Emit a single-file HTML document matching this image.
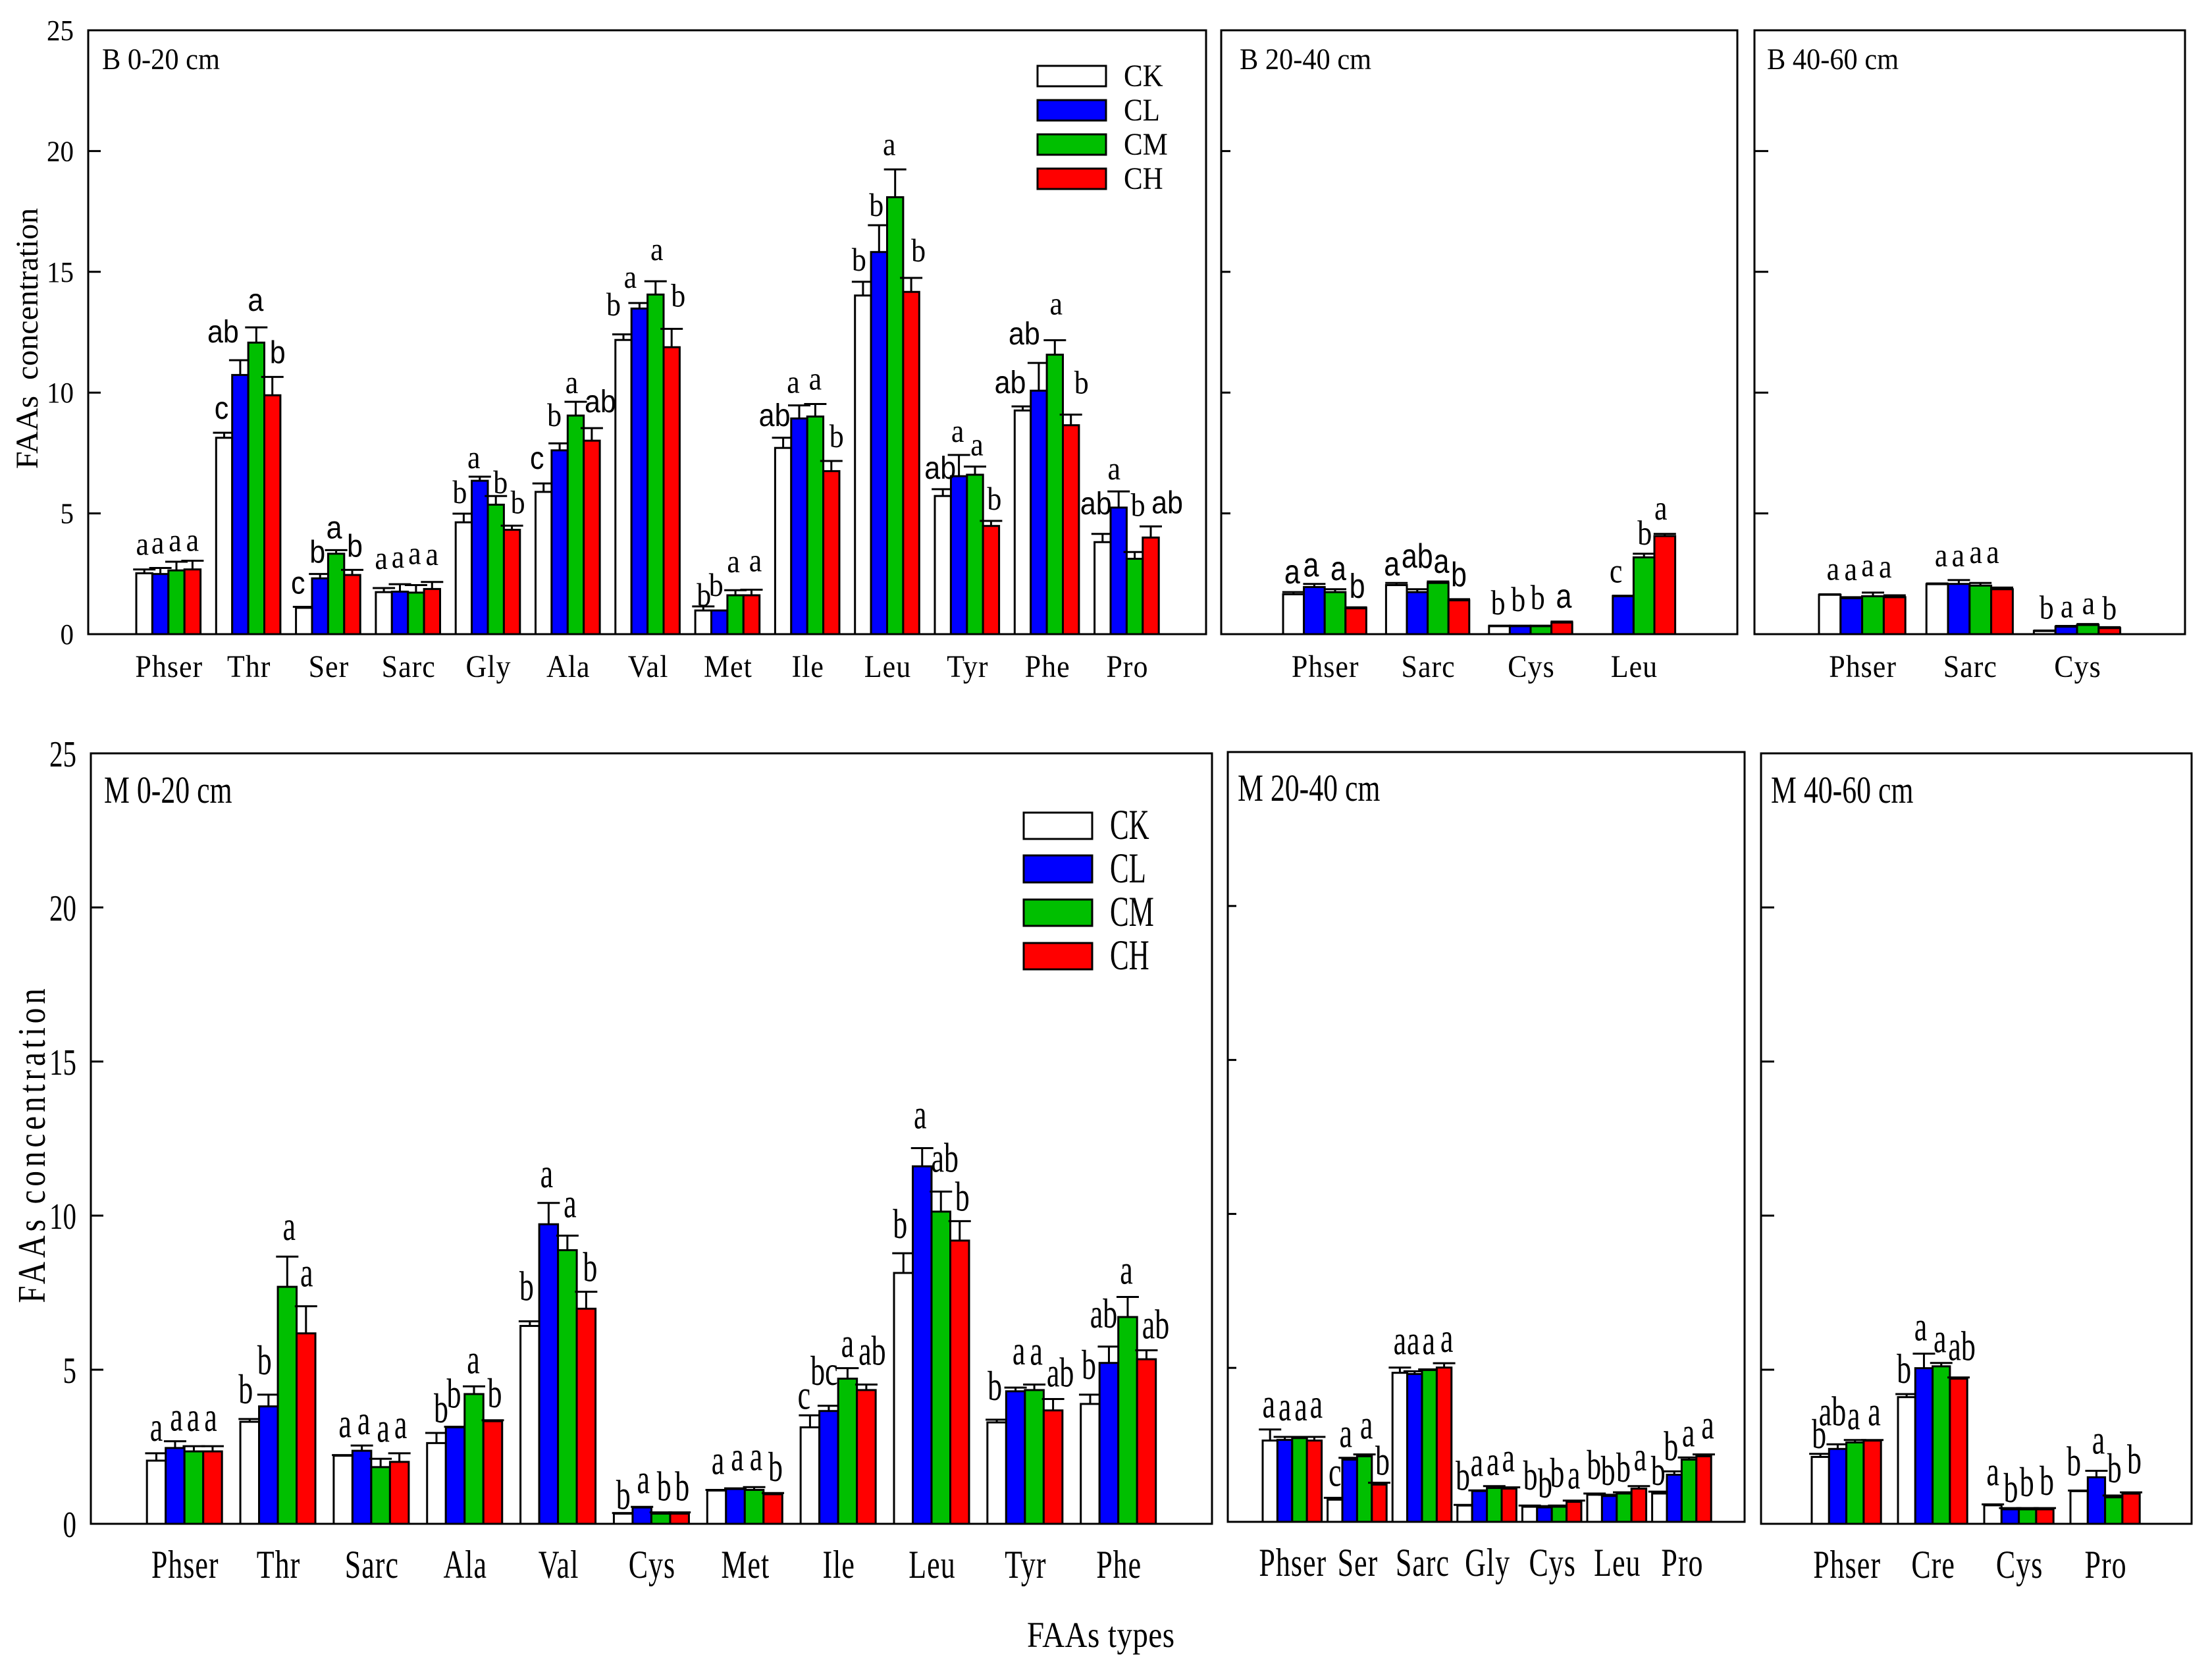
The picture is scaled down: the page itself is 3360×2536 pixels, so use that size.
<!DOCTYPE html>
<html lang="en">
<head>
<meta charset="utf-8">
<title>FAAs concentration by soil depth</title>
<style>
html,body{margin:0;padding:0;background:#fff}
svg{display:block}
text{font-family:"Liberation Serif",serif;fill:#000}
.sans{font-family:"Liberation Sans",sans-serif}
</style>
</head>
<body>
<svg id="chart" xmlns="http://www.w3.org/2000/svg" width="3360" height="2536" viewBox="0 0 3360 2536">
<rect x="0" y="0" width="3360" height="2536" fill="#fff"/>
<text transform="translate(57,514) rotate(-90)" font-size="48" text-anchor="middle" xml:space="preserve">FAAs  concentration</text>
<text transform="translate(68,1740) rotate(-90) scale(.8,1)" font-size="59" text-anchor="middle" textLength="597" lengthAdjust="spacing">FAAs concentration</text>
<text transform="translate(1560,2501) scale(1,1.18)" font-size="47" textLength="224" lengthAdjust="spacing">FAAs types</text>
<text transform="translate(155,105) scale(1,1.08)" font-size="42.4">B 0-20 cm</text>
<text transform="translate(1883,105) scale(1,1.08)" font-size="42.4">B 20-40 cm</text>
<text transform="translate(2684,105) scale(1,1.08)" font-size="42.4">B 40-60 cm</text>
<text transform="translate(158,1219) scale(1,1.33)" font-size="43.8">M 0-20 cm</text>
<text transform="translate(1880,1216) scale(1,1.33)" font-size="43.8">M 20-40 cm</text>
<text transform="translate(2690,1219) scale(1,1.33)" font-size="43.8">M 40-60 cm</text>
<g id="legend-top">
<rect x="1576" y="100" width="104" height="31" fill="#fff" stroke="#000" stroke-width="3"/>
<rect x="1576" y="152" width="104" height="31" fill="#0000ff" stroke="#000" stroke-width="3"/>
<rect x="1576" y="204" width="104" height="31" fill="#00bf00" stroke="#000" stroke-width="3"/>
<rect x="1576" y="256" width="104" height="31" fill="#ff0000" stroke="#000" stroke-width="3"/>
<text transform="translate(1707,131) scale(1,1.1)" font-size="43">CK</text>
<text transform="translate(1707,183) scale(1,1.1)" font-size="43">CL</text>
<text transform="translate(1707,235) scale(1,1.1)" font-size="43">CM</text>
<text transform="translate(1707,287) scale(1,1.1)" font-size="43">CH</text>
</g>
<g id="legend-bottom">
<rect x="1555" y="1234" width="104" height="40" fill="#fff" stroke="#000" stroke-width="3"/>
<rect x="1555" y="1299" width="104" height="41" fill="#0000ff" stroke="#000" stroke-width="3"/>
<rect x="1555" y="1366" width="104" height="40" fill="#00bf00" stroke="#000" stroke-width="3"/>
<rect x="1555" y="1432" width="104" height="40" fill="#ff0000" stroke="#000" stroke-width="3"/>
<text transform="translate(1686,1274) scale(1,1.5)" font-size="43">CK</text>
<text transform="translate(1686,1340) scale(1,1.5)" font-size="43">CL</text>
<text transform="translate(1686,1406) scale(1,1.5)" font-size="43">CM</text>
<text transform="translate(1686,1472) scale(1,1.5)" font-size="43">CH</text>
</g>
</svg>
<script>
const seriesNames = ['ck','cl','cm','ch'];
const yTickLabels = [0,5,10,15,20,25];

const b020Categories = ['Phser','Thr','Ser','Sarc','Gly','Ala','Val','Met','Ile','Leu','Tyr','Phe','Pro'];
const b020Means = [[2.52,2.49,2.64,2.68],[8.13,10.73,12.07,9.89],[1.09,2.31,3.33,2.45],[1.74,1.76,1.72,1.87],[4.63,6.35,5.36,4.32],[5.89,7.61,9.05,8.01],[12.18,13.48,14.06,11.88],[0.98,0.98,1.61,1.61],[7.71,8.93,9.01,6.75],[14.02,15.82,18.09,14.17],[5.72,6.54,6.6,4.48],[9.26,10.08,11.57,8.65],[3.81,5.24,3.12,4.0]];
const b020Uppers = [[2.68,2.74,3.0,3.04],[8.34,11.34,12.7,10.65],[1.13,2.49,3.48,2.66],[1.91,2.07,2.03,2.16],[4.99,6.52,5.72,4.49],[6.24,7.9,9.62,8.53],[12.41,13.71,14.61,12.64],[1.15,0.98,1.82,1.84],[8.13,9.47,9.53,7.17],[14.59,16.93,19.24,14.75],[6.0,7.42,6.94,4.69],[9.43,11.23,12.17,9.09],[4.15,5.91,3.4,4.46]];
const b020Letters = [['a','a','a','a'],['c*','ab*','a*','b*'],['c*','b*','a*','b*'],['a','a','a','a'],['b','a','b','b'],['c*','b','a','ab*'],['b','a','a','b'],['b','b','a','a'],['ab*','a','a','b'],['b','b','a','b'],['ab*','a','a','b'],['ab*','ab*','a','b'],['ab*','a','b','ab*']];

const b2040Categories = ['Phser','Sarc','Cys','Leu'];
const b2040Means = [[1.65,1.95,1.74,1.07],[2.03,1.74,2.12,1.40],[0.33,0.33,0.33,0.48],[null,1.57,3.18,4.06]];
const b2040Uppers = [[1.74,2.08,1.86,1.11],[2.12,1.86,2.18,1.45],[0.35,0.35,0.35,0.52],[null,1.59,3.33,4.15]];
const b2040Letters = [['a*','a*','a*','b*'],['a*','ab*','a*','b*'],['b','b','b','a*'],['','c','b','a']];

const b4060Categories = ['Phser','Sarc','Cys'];
const b4060Means = [[1.63,1.49,1.57,1.53],[2.07,2.08,2.01,1.86],[0.13,0.31,0.38,0.25]];
const b4060Uppers = [[1.65,1.53,1.72,1.61],[2.10,2.24,2.12,1.93],[0.15,0.34,0.42,0.29]];
const b4060Letters = [['a','a','a','a'],['a','a','a','a'],['b','a','a','b']];

const m020Categories = ['Phser','Thr','Sarc','Ala','Val','Cys','Met','Ile','Leu','Tyr','Phe'];
const m020Means = [[2.05,2.46,2.35,2.35],[3.31,3.81,7.69,6.18],[2.21,2.37,1.84,2.01],[2.62,3.13,4.21,3.33],[6.42,9.72,8.88,6.98],[0.33,0.53,0.33,0.33],[1.08,1.13,1.10,0.96],[3.13,3.66,4.71,4.34],[8.14,11.6,10.13,9.19],[3.29,4.30,4.34,3.68],[3.89,5.22,6.71,5.34]];
const m020Uppers = [[2.29,2.68,2.52,2.52],[3.40,4.19,8.67,7.06],[2.23,2.54,2.11,2.29],[2.95,3.15,4.46,3.36],[6.57,10.41,9.35,7.53],[0.35,0.55,0.37,0.37],[1.1,1.15,1.19,1.0],[3.52,3.83,5.05,4.52],[8.78,12.19,10.78,9.82],[3.38,4.42,4.52,4.05],[4.19,5.75,7.36,5.63]];
const m020Letters = [['a','a','a','a'],['b','b','a','a'],['a','a','a','a'],['b','b','a','b'],['b','a','a','b'],['b','a','b','b'],['a','a','a','b'],['c','bc','a','ab'],['b','a','ab','b'],['b','a','a','ab'],['b','ab','a','ab']];

const m2040Categories = ['Phser','Ser','Sarc','Gly','Cys','Leu','Pro'];
const m2040Means = [[2.64,2.66,2.72,2.64],[0.72,2.02,2.13,1.21],[4.84,4.80,4.93,5.01],[0.53,1.0,1.1,1.08],[0.49,0.47,0.49,0.65],[0.88,0.84,0.92,1.08],[0.92,1.53,2.02,2.13]];
const m2040Uppers = [[3.0,2.76,2.76,2.76],[0.78,2.08,2.19,1.27],[5.01,4.89,4.95,5.15],[0.55,1.02,1.16,1.12],[0.53,0.51,0.53,0.69],[0.92,0.88,0.96,1.16],[0.98,1.64,2.09,2.19]];
const m2040Letters = [['a','a','a','a'],['c','a','a','b'],['a','a','a','a'],['b','a','a','a'],['b','b','b','a'],['b','b','b','a'],['b','b','a','a']];

const m4060Categories = ['Phser','Cre','Cys','Pro'];
const m4060Means = [[2.17,2.43,2.64,2.70],[4.11,5.05,5.11,4.71],[0.6,0.47,0.47,0.47],[1.06,1.51,0.86,0.98]];
const m4060Uppers = [[2.27,2.58,2.72,2.72],[4.21,5.52,5.22,4.75],[0.63,0.51,0.51,0.51],[1.08,1.72,0.92,1.02]];
const m4060Letters = [['b','ab','a','a'],['b','a','a','ab'],['a','b','b','b'],['b','a','b','b']];

const seriesFill = {ck:'#ffffff',cl:'#0000ff',cm:'#00bf00',ch:'#ff0000'};
const SVG_NS = 'http://www.w3.org/2000/svg';
const svg = document.getElementById('chart');

function makeEl(tag, attrs, parent){
  const el = document.createElementNS(SVG_NS, tag);
  for (const k in attrs) el.setAttribute(k, attrs[k]);
  parent.appendChild(el);
  return el;
}

function drawPanel(p){
  const yScale = v => p.bottom - (v / 25) * (p.bottom - p.top);
  const xBar = (g, s) => p.start + g * p.pitch + s * p.barW;

  const group = makeEl('g', {}, svg);
  
  

  const frame = makeEl('rect', {x:p.left, y:p.top, width:p.right-p.left, height:p.bottom-p.top, fill:'none', stroke:'#000', 'stroke-width':3}, group);
  
  

  yTickLabels.forEach(t => {
    if (t > 0 && t < 25) {
      const tick = makeEl('line', {x1:p.left, x2:p.left+p.tick, y1:yScale(t), y2:yScale(t), stroke:'#000', 'stroke-width':3}, group);
      
      
    }
    if (p.showY) {
      const lab = makeEl('text', {transform:`translate(${p.left-22},${yScale(t)+p.tickBase}) scale(1,${p.sy})`, 'font-size':41, 'text-anchor':'end'}, group);
      lab.textContent = t;
      
      
    }
  });

  p.categories.forEach((cat, g) => {
    const centre = xBar(g, 2);
    const lab = makeEl('text', {transform:`translate(${centre+1},${p.catY}) scale(1,${p.sy})`, 'font-size':44, 'text-anchor':'middle', 'letter-spacing':1}, group);
    lab.textContent = cat;
    
    

    seriesNames.forEach((sName, s) => {
      const mean = p.means[g][s];
      if (mean !== null) {
        const x = xBar(g, s);
        const y = yScale(mean);
        const bc = x + p.barW / 2;
        const up = yScale(p.uppers[g][s]);

        const stem = makeEl('line', {x1:bc, x2:bc, y1:y, y2:up, stroke:'#000', 'stroke-width':3}, group);
        
        

        const cap = makeEl('line', {x1:bc-17, x2:bc+17, y1:up, y2:up, stroke:'#000', 'stroke-width':3}, group);
        
        

        const bar = makeEl('rect', {x:x, y:y, width:p.barW, height:p.bottom-y, fill:seriesFill[sName], stroke:'#000', 'stroke-width':3}, group);
        
        
      }
    });
  });

  // letters drawn last so they sit above neighbouring bars; the small offsets
  // only untangle label overlaps, the anchor always follows the error-bar value
  p.categories.forEach((cat, g) => {
    seriesNames.forEach((sName, s) => {
      const raw = p.letters[g][s];
      if (raw && p.means[g][s] !== null) {
        const isSans = raw.endsWith('*');
        const bc = xBar(g, s) + p.barW / 2 + p.offX[g][s];
        const up = yScale(p.uppers[g][s]) + p.offY[g][s];
        const t = makeEl('text', {transform:`translate(${bc},${up-p.gap}) scale(1,${p.letterSy})`, 'font-size':isSans ? 43 : 44, 'text-anchor':'middle'}, group);
        if (isSans) t.setAttribute('class', 'sans');
        t.textContent = raw.replace('*', '');
        
        
      }
    });
  });
}

drawPanel({id:'b-0-20', left:134, right:1832, top:46, bottom:963, tick:19, start:207, pitch:121.3, barW:24.4, showY:true, tickBase:15, sy:1.08, letterSy:1.12, gap:20, catY:1028, categories:b020Categories, means:b020Means, uppers:b020Uppers, letters:b020Letters,
  offX:[[-3,-4,-2,0],[-4,-26,-1,8],[-9,-4,-3,4],[-4,-3,-2,0],[-6,-9,7,9],[-10,-8,-6,13],[-15,-14,2,10],[1,-5,-3,6],[-13,-9,0,8],[-6,-4,-9,11],[-4,-2,3,5],[-19,-22,2,16],[-10,-7,5,25]],
  offY:[[-2,-2,4,5],[-1,-7,-5,-1],[0,3,2,0],[-9,-5,-12,-6],[4,7,16,1],[-2,-6,7,-4],[-9,-3,-12,-14],[19,-2,-7,-8],[2,1,-2,-1],[3,6,-2,-5],[4,0,3,3],[0,-8,-19,-12],[-10,2,-35,0]]});
drawPanel({id:'b-20-40', left:1855, right:2639, top:46, bottom:963, tick:14, start:1949, pitch:156.4, barW:31.6, showY:false, tickBase:15, sy:1.08, letterSy:1.2, gap:18, catY:1028, categories:b2040Categories, means:b2040Means, uppers:b2040Uppers, letters:b2040Letters,
  offX:[[-2,-5,5,2],[-7,0,5,0],[-2,-3,-5,3],[0,-11,1,-6]],
  offY:[[5,7,4,3],[7,-15,5,-2],[1,-4,-7,-3],[0,-2,4,-4]]});
drawPanel({id:'b-40-60', left:2665, right:3319, top:46, bottom:963, tick:21, start:2763, pitch:163.2, barW:32.8, showY:false, tickBase:15, sy:1.08, letterSy:1.15, gap:20, catY:1028, categories:b4060Categories, means:b4060Means, uppers:b4060Uppers, letters:b4060Letters,
  offX:[[5,-1,-8,-14],[6,-1,-7,-14],[3,1,1,0]],
  offY:[[-2,-6,-5,-7],[-6,-1,-10,-17],[2,7,5,8]]});
drawPanel({id:'m-0-20', left:138, right:1841, top:1144, bottom:2314, tick:19, start:223.2, pitch:141.85, barW:28.5, showY:true, tickBase:20, sy:1.38, letterSy:1.45, gap:24, catY:2396, categories:m020Categories, means:m020Means, uppers:m020Uppers, letters:m020Letters,
  offX:[[0,2,-1,-3],[-6,-6,3,1],[3,3,4,2],[7,-2,-1,3],[-5,-3,4,6],[0,2,5,4],[2,3,3,4],[-9,-7,0,9],[-5,-3,6,4],[-3,5,3,11],[-2,-8,-2,14]],
  offY:[[5,8,1,1],[0,-7,-1,-6],[-3,7,-2,1],[8,-5,4,4],[-8,0,-4,8],[18,3,6,6],[0,-3,-2,6],[14,-8,7,-6],[1,-6,-6,8],[-6,-11,-6,5],[0,-5,4,6]]});
drawPanel({id:'m-20-40', left:1865, right:2650, top:1142, bottom:2311, tick:13, start:1918, pitch:98.6, barW:22.4, showY:false, tickBase:20, sy:1.38, letterSy:1.45, gap:22, catY:2393, categories:m2040Categories, means:m2040Means, uppers:m2040Uppers, letters:m2040Letters,
  offX:[[-2,0,2,3],[0,-6,3,5],[0,-2,-1,4],[-3,-4,-2,-1],[1,1,-3,0],[-1,-2,-1,2],[-2,-5,-1,6]],
  offY:[[4,-3,-3,-7],[4,6,-2,10],[2,-4,-1,5],[-1,0,5,-2],[-2,9,-6,4],[0,7,6,-2],[12,5,5,-2]]});
drawPanel({id:'m-40-60', left:2675, right:3329, top:1144, bottom:2314, tick:20, start:2752, pitch:131, barW:26.3, showY:false, tickBase:20, sy:1.38, letterSy:1.45, gap:22, catY:2396, categories:m4060Categories, means:m4060Means, uppers:m4060Uppers, letters:m4060Letters,
  offX:[[-2,-8,-2,3],[-4,-5,-2,5],[0,1,-1,3],[-8,3,1,5]],
  offY:[[13,-7,6,0],[5,2,6,-4],[-7,13,4,2],[-1,-4,2,-7]]});
</script>
</body>
</html>
